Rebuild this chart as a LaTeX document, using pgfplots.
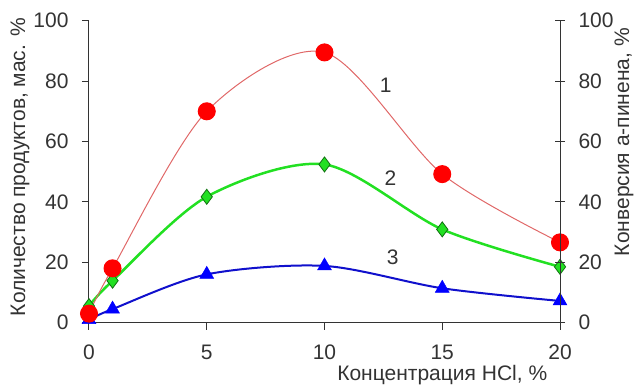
\documentclass[border=0pt]{standalone}
\usepackage{pgfplots}
\pgfplotsset{compat=1.18}
\usepackage{fontspec}
\setmainfont{Liberation Sans}

\definecolor{curveone}{HTML}{E06868}
\definecolor{dotred}{HTML}{FF0000}
\definecolor{curvetwo}{HTML}{22E022}
\definecolor{diamondedge}{HTML}{107010}
\definecolor{curvethree}{HTML}{1010CC}
\definecolor{triblue}{HTML}{0000FF}
\definecolor{axisgray}{HTML}{333333}

\begin{document}
\begin{tikzpicture}
\useasboundingbox (-89pt,-62.3pt) rectangle (545pt,322.7pt);
\pgfplotsset{
  common/.style={
    scale only axis, width=471pt, height=302pt,
    xmin=0, xmax=20, ymin=0, ymax=100,
    ytick={0,20,...,100},
    /pgf/number format/assume math mode=true,
    tick label style={font=\fontsize{21}{25}\selectfont, text=axisgray},
    label style={font=\fontsize{21}{25}\selectfont, text=axisgray},
    axis line style={axisgray, line width=1pt},
    tick style={axisgray, line width=1pt},
  }
}
\begin{axis}[
  common,
  axis x line*=bottom, axis y line*=left,
  xtick={0,5,10,15,20},
  tick align=outside, major tick length=7pt,
  xticklabel style={yshift=-12pt},
  yticklabel style={xshift=-10pt},
  clip=false,
  xlabel={Концентрация HCl, \%},
  xlabel style={at={(axis description cs:0.75,0)}, anchor=center, yshift=-52pt},
  ylabel={Количество продуктов, мас. \%},
  % the label is turned by 90 degrees, so its y shift runs to the left
  ylabel style={at={(axis description cs:0,0.515)}, anchor=center, yshift=69pt},
]
% 3
\addplot[curvethree, line width=2pt, smooth, mark=triangle*, mark size=8pt,
  mark options={fill=triblue, draw=triblue, line width=0.5pt}]
  coordinates {(0,1) (1,4.5) (5,16) (10,18.8) (15,11.4) (20,7.2)};
% 2
\addplot[curvetwo, line width=2.5pt, smooth, mark=diamond*, mark size=7.5pt,
  mark options={fill=curvetwo, draw=diamondedge, line width=0.8pt}]
  coordinates {(0,5.5) (1,13.9) (5,41.7) (10,52.4) (15,30.9) (20,18.5)};
% 1
\addplot[curveone, line width=1pt, smooth, mark=*, mark size=8.5pt,
  mark options={fill=dotred, draw=dotred}]
  coordinates {(0,3) (1,18) (5,70) (10,89.5) (15,49.2) (20,26.6)};

\node[font=\fontsize{21}{25}\selectfont, text=axisgray] at (axis cs:12.6,78.7) {1};
\node[font=\fontsize{21}{25}\selectfont, text=axisgray] at (axis cs:12.8,47.9) {2};
\node[font=\fontsize{21}{25}\selectfont, text=axisgray] at (axis cs:12.9,21.8) {3};
\end{axis}

\begin{axis}[
  common,
  axis x line=none, axis y line*=right,
  tick align=center, major tick length=10pt,
  yticklabel style={xshift=10pt},
  ylabel={Конверсия a-пинена, \%},
  ylabel style={at={(axis description cs:1,0.598)}, anchor=center, yshift=-64pt},
]
\addplot[draw=none] coordinates {(0,0) (20,100)};
\end{axis}
\end{tikzpicture}
\end{document}
